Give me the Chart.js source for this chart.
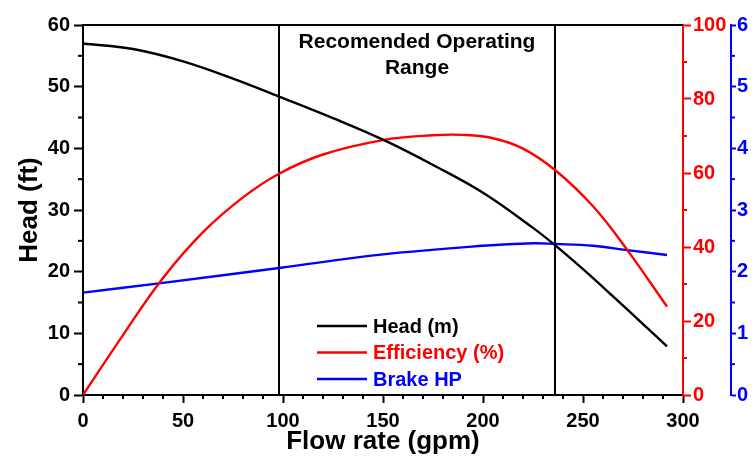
<!DOCTYPE html>
<html>
<head>
<meta charset="utf-8">
<script src="https://cdn.jsdelivr.net/npm/chart.js@4.4.1/dist/chart.umd.min.js"></script>
<style>
  html, body { margin: 0; padding: 0; overflow: hidden; background: #fff; }
  #wrap { width: 800px; height: 457px; }
</style>
</head>
<body>
<div id="wrap"><canvas id="pumpCurve" width="800" height="457"></canvas></div>
<script>
// Pump performance: head, efficiency and brake horsepower against flow rate
const headFlow = [0, 25, 50, 75, 98, 125, 150, 175, 200, 225, 236, 250, 265, 280, 292];
const headFt   = [57.0, 56.1, 54.1, 51.3, 48.4, 44.9, 41.4, 37.3, 32.8, 27.1, 24.3, 20.4, 16.0, 11.5, 7.9];

const effFlow = [0, 20, 40, 60, 80, 98, 120, 150, 175, 190, 205, 220, 236, 255, 272, 292];
const effPct  = [0, 16.2, 31.6, 44.0, 53.4, 59.8, 65.0, 68.9, 70.2, 70.3, 69.4, 66.6, 60.8, 51.0, 39.3, 23.9];

const bhpFlow = [0, 38, 98, 150, 200, 225, 236, 255, 272, 292];
const bhpHp   = [1.66, 1.81, 2.06, 2.28, 2.42, 2.46, 2.45, 2.42, 2.35, 2.27];

// recommended operating range limits (gpm)
const rangeLimits = [98, 236];

const FONT = '"Liberation Sans", Arial, sans-serif';
const RED = '#ff0000';
const BLUE = '#0000ff';

const toPoints = (xs, ys) => xs.map((x, i) => ({ x: x, y: ys[i] }));

// minor tick marks between the labelled ones
const minorTicks = {
    id: 'minorTicks',
    afterDraw(chart) {
        const ctx = chart.ctx;
        const spec = {
            x:    { step: 10,  major: 50, len: 4 },
            y:    { step: 5,   major: 10, len: 5 },
            yEff: { step: 10,  major: 20, len: 4 },
            yBhp: { step: 0.5, major: 1,  len: 4 }
        };
        ctx.save();
        ctx.lineWidth = 2;
        Object.keys(spec).forEach(id => {
            const s = chart.scales[id];
            const o = spec[id];
            ctx.strokeStyle = s.options.border.color;
            for (let v = s.min; v <= s.max + 1e-9; v += o.step) {
                const r = v / o.major;
                if (Math.abs(r - Math.round(r)) < 1e-6) continue;
                const p = s.getPixelForValue(v);
                ctx.beginPath();
                if (id === 'x') {
                    ctx.moveTo(p, s.top);
                    ctx.lineTo(p, s.top + o.len);
                } else if (s.position === 'left') {
                    ctx.moveTo(s.right, p);
                    ctx.lineTo(s.right - o.len, p);
                } else {
                    ctx.moveTo(s.left, p);
                    ctx.lineTo(s.left + o.len, p);
                }
                ctx.stroke();
            }
        });
        ctx.restore();
    }
};

// top frame line, range caption and the legend inside the plot
const decorations = {
    id: 'decorations',
    afterDraw(chart) {
        const { ctx, chartArea } = chart;
        const xs = chart.scales.x;
        ctx.save();
        ctx.strokeStyle = '#000';
        ctx.lineWidth = 2;
        ctx.beginPath();
        ctx.moveTo(chartArea.left - 1, chartArea.top);
        ctx.lineTo(chartArea.right, chartArea.top);
        ctx.stroke();

        const cx = (xs.getPixelForValue(rangeLimits[0]) + xs.getPixelForValue(rangeLimits[1])) / 2;
        ctx.fillStyle = '#000';
        ctx.font = 'bold 21px ' + FONT;
        ctx.textAlign = 'center';
        ctx.textBaseline = 'middle';
        ctx.fillText('Recomended Operating', cx, chartArea.top + 17);
        ctx.fillText('Range', cx, chartArea.top + 43);

        const x0 = chartArea.left + 234;
        const y0 = chartArea.top + 301;
        ctx.font = 'bold 20px ' + FONT;
        ctx.textAlign = 'left';
        ctx.lineWidth = 2.4;
        chart.data.datasets.filter(d => d.inLegend).forEach((d, i) => {
            const y = y0 + i * 26.5;
            ctx.strokeStyle = d.borderColor;
            ctx.beginPath();
            ctx.moveTo(x0, y);
            ctx.lineTo(x0 + 50, y);
            ctx.stroke();
            ctx.fillStyle = d.borderColor;
            ctx.fillText(d.label, x0 + 56, y + 1);
        });
        ctx.restore();
    }
};

const tickFont = { family: FONT, size: 20, weight: 'bold' };
const titleFont = { family: FONT, size: 26, weight: 'bold' };

const curve = {
    fill: false,
    borderWidth: 2.4,
    pointRadius: 0,
    tension: 0.4
};

const config = {
    type: 'line',
    data: {
        datasets: [
            Object.assign({
                label: 'Head (m)',
                data: toPoints(headFlow, headFt),
                borderColor: '#000000',
                yAxisID: 'y',
                inLegend: true
            }, curve),
            Object.assign({
                label: 'Efficiency (%)',
                data: toPoints(effFlow, effPct),
                borderColor: RED,
                yAxisID: 'yEff',
                inLegend: true
            }, curve),
            Object.assign({
                label: 'Brake HP',
                data: toPoints(bhpFlow, bhpHp),
                borderColor: BLUE,
                yAxisID: 'yBhp',
                inLegend: true
            }, curve),
            {
                label: 'range low',
                data: [{ x: rangeLimits[0], y: 0 }, { x: rangeLimits[0], y: 60 }],
                borderColor: '#000000',
                borderWidth: 2,
                pointRadius: 0,
                yAxisID: 'y'
            },
            {
                label: 'range high',
                data: [{ x: rangeLimits[1], y: 0 }, { x: rangeLimits[1], y: 60 }],
                borderColor: '#000000',
                borderWidth: 2,
                pointRadius: 0,
                yAxisID: 'y'
            }
        ]
    },
    options: {
        responsive: false,
        animation: false,
        devicePixelRatio: 1,
        layout: { padding: { left: 10, top: 25, right: 0, bottom: 0 } },
        plugins: {
            legend: { display: false },
            tooltip: { enabled: false }
        },
        scales: {
            x: {
                type: 'linear',
                min: 0,
                max: 300,
                ticks: { stepSize: 50, padding: 6, font: tickFont, color: '#000', maxRotation: 0 },
                grid: { drawOnChartArea: false, tickLength: 8, tickWidth: 2, tickColor: '#000' },
                border: { color: '#000', width: 2 },
                title: { display: true, text: 'Flow rate (gpm)', font: titleFont, color: '#000', padding: 0 },
                afterFit: s => { s.height = 62; }
            },
            y: {
                position: 'left',
                min: 0,
                max: 60,
                ticks: { stepSize: 10, padding: 4, font: tickFont, color: '#000' },
                grid: { drawOnChartArea: false, tickLength: 9, tickWidth: 2, tickColor: '#000' },
                border: { color: '#000', width: 2 },
                title: { display: true, text: 'Head (ft)', font: titleFont, color: '#000', padding: { top: 4, bottom: 0 } },
                afterFit: s => { s.width = 73; }
            },
            yEff: {
                position: 'right',
                min: 0,
                max: 100,
                ticks: { stepSize: 20, padding: 2, font: tickFont, color: RED },
                grid: { drawOnChartArea: false, tickLength: 8, tickWidth: 2, tickColor: RED },
                border: { color: RED, width: 2 },
                afterFit: s => { s.width = 48; }
            },
            yBhp: {
                position: 'right',
                min: 0,
                max: 6,
                ticks: { stepSize: 1, padding: 1, font: tickFont, color: BLUE },
                grid: { drawOnChartArea: false, tickLength: 5, tickWidth: 2, tickColor: BLUE },
                border: { color: BLUE, width: 2 },
                afterFit: s => { s.width = 69; }
            }
        }
    },
    plugins: [minorTicks, decorations]
};

const pumpChart = new Chart(document.getElementById('pumpCurve'), config);
</script>
</body>
</html>
